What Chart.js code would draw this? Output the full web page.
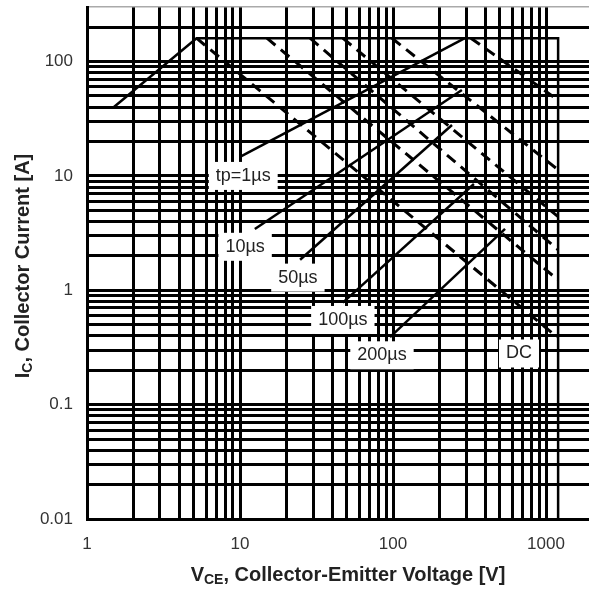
<!DOCTYPE html>
<html>
<head>
<meta charset="utf-8">
<title>SOA</title>
<script src="https://cdn.jsdelivr.net/npm/chart.js@4.4.1/dist/chart.umd.min.js"></script>
<style>
    html, body { margin: 0; padding: 0; background: #fff; }
    #soaChart { display: block; background: #fff; }
</style>
</head>
<body>
<canvas id="soaChart" width="589" height="591"></canvas>
<script>
// Grid / tick values (log decades)
const vceGrid = [1, 2, 3, 4, 5, 6, 7, 8, 9, 10, 20, 30, 40, 50, 60, 70, 80, 90,
                 100, 200, 300, 400, 500, 600, 700, 800, 900, 1000];
const icGrid = [0.01, 0.02, 0.03, 0.04, 0.05, 0.06, 0.07, 0.08, 0.09,
                0.1, 0.2, 0.3, 0.4, 0.5, 0.6, 0.7, 0.8, 0.9,
                1, 2, 3, 4, 5, 6, 7, 8, 9,
                10, 20, 30, 40, 50, 60, 70, 80, 90,
                100, 200, 300];
const vceLabels = [1, 10, 100, 1000];
const icLabels = [0.01, 0.1, 1, 10, 100];

// SOA envelope (solid)
const envV = [1.5, 5.2, 1200, 1200];
const envI = [40, 160, 160, 0.01];

// Power limit lines (dashed), start on Icm line, end on 1200 V
const dcV = [5.2, 1180];
const dcI = [160, 0.39];
const p200V = [15, 1200];
const p200I = [160, 1.23];
const p100V = [28.7, 1200];
const p100I = [160, 2.26];
const p50V = [47, 1200];
const p50I = [160, 4.4];
const p10V = [98.5, 1200];
const p10I = [160, 11.3];
const p1V = [323, 1200];
const p1I = [160, 46];

// Solid leader lines from labels
const l1V = [10, 295];
const l1I = [14.7, 160];
const l10V = [12.5, 282];
const l10I = [3.44, 56.4];
const l50V = [24.7, 243];
const l50I = [1.85, 27.9];
const l100V = [47, 338];
const l100I = [0.78, 8.5];
const l200V = [95.6, 540];
const l200I = [0.39, 3.44];

// Label texts and their anchor (V, A)
const calloutText = ['tp=1\u00b5s', '10\u00b5s', '50\u00b5s', '100\u00b5s', '200\u00b5s', 'DC'];
const calloutV = [10.5, 10.8, 23.9, 47, 84.7, 666];
const calloutI = [10, 2.4, 1.29, 0.55, 0.27, 0.28];

function pts(vs, is) {
    return vs.map((v, i) => ({ x: v, y: is[i] }));
}

function solid(vs, is) {
    return { data: pts(vs, is), borderColor: '#000', borderWidth: 2.5, pointRadius: 0, tension: 0, fill: false };
}

function dashed(vs, is) {
    return { data: pts(vs, is), borderColor: '#000', borderWidth: 3, borderDash: [11, 7], pointRadius: 0, tension: 0, fill: false };
}

// White boxed labels
const calloutPlugin = {
    id: 'callouts',
    afterDatasetsDraw(chart) {
        const c = chart.ctx;
        const xs = chart.scales.x, ys = chart.scales.y;
        c.save();
        c.font = '18px "Liberation Sans", Arial, sans-serif';
        c.textAlign = 'center';
        c.textBaseline = 'middle';
        calloutText.forEach((t, i) => {
            const px = xs.getPixelForValue(calloutV[i]);
            const py = ys.getPixelForValue(calloutI[i]);
            const w = c.measureText(t).width + 14;
            const h = 28;
            c.fillStyle = '#fff';
            c.fillRect(px - w / 2, py - h / 2, w, h);
            c.fillStyle = '#222';
            c.fillText(t, px, py);
        });
        c.restore();
    }
};

// Axis titles with subscripts
function drawSubTitle(c, main, sub, rest, size) {
    const big = 'bold ' + size + 'px "Liberation Sans", Arial, sans-serif';
    const small = 'bold ' + Math.round(size * 0.68) + 'px "Liberation Sans", Arial, sans-serif';
    c.font = big;
    const w1 = c.measureText(main).width;
    const w3 = c.measureText(rest).width;
    c.font = small;
    const w2 = c.measureText(sub).width;
    let x = -(w1 + w2 + w3) / 2;
    c.textAlign = 'left';
    c.textBaseline = 'middle';
    c.font = big;
    c.fillText(main, x, 0);
    x += w1;
    c.font = small;
    c.fillText(sub, x, size * 0.28);
    x += w2;
    c.font = big;
    c.fillText(rest, x, 0);
}

const titlePlugin = {
    id: 'axisTitles',
    afterDraw(chart) {
        const c = chart.ctx;
        c.save();
        c.fillStyle = '#222';
        c.translate(348, 575);
        drawSubTitle(c, 'V', 'CE', ', Collector-Emitter Voltage [V]', 20);
        c.restore();
        c.save();
        c.fillStyle = '#222';
        c.translate(23, 266);
        c.rotate(-Math.PI / 2);
        drawSubTitle(c, 'I', 'C', ', Collector Current [A]', 20);
        c.restore();
    }
};

document.addEventListener('DOMContentLoaded', function() {
    const canvas = document.getElementById('soaChart');
    const ctx = canvas.getContext('2d');
    const tickFont = { family: '"Liberation Sans", Arial, sans-serif', size: 17 };

    new Chart(ctx, {
        type: 'line',
        data: {
            datasets: [
                solid(envV, envI),
                dashed(dcV, dcI),
                dashed(p200V, p200I),
                dashed(p100V, p100I),
                dashed(p50V, p50I),
                dashed(p10V, p10I),
                dashed(p1V, p1I),
                solid(l1V, l1I),
                solid(l10V, l10I),
                solid(l50V, l50I),
                solid(l100V, l100I),
                solid(l200V, l200I)
            ]
        },
        options: {
            responsive: false,
            animation: false,
            layout: { padding: { top: 7, right: 0, bottom: 0, left: 0 } },
            plugins: {
                legend: { display: false },
                tooltip: { enabled: false }
            },
            scales: {
                x: {
                    type: 'logarithmic',
                    min: 1,
                    max: 1910,
                    afterBuildTicks: function(scale) {
                        scale.ticks = vceGrid.map(v => ({ value: v }));
                    },
                    afterFit: function(scale) {
                        scale.height = 72;
                        scale.paddingLeft = 0;
                        scale.paddingRight = 0;
                    },
                    grid: { color: '#000', lineWidth: 3, drawTicks: false },
                    border: { display: true, color: '#000', width: 3 },
                    ticks: {
                        autoSkip: false,
                        maxRotation: 0,
                        padding: 15,
                        color: '#333',
                        font: tickFont,
                        callback: function(value) {
                            return vceLabels.includes(value) ? String(value) : '';
                        }
                    }
                },
                y: {
                    type: 'logarithmic',
                    min: 0.01,
                    max: 300,
                    afterBuildTicks: function(scale) {
                        scale.ticks = icGrid.map(v => ({ value: v }));
                    },
                    afterFit: function(scale) {
                        scale.width = 87;
                        scale.paddingTop = 0;
                        scale.paddingBottom = 0;
                    },
                    grid: {
                        drawTicks: false,
                        color: c => c.tick && c.tick.value === 300 ? '#aaa' : '#000',
                        lineWidth: c => c.tick && c.tick.value === 300 ? 1.5 : 3
                    },
                    border: { display: true, color: '#000', width: 3 },
                    ticks: {
                        autoSkip: false,
                        padding: 14,
                        color: '#333',
                        font: tickFont,
                        callback: function(value) {
                            return icLabels.includes(value) ? String(value) : '';
                        }
                    }
                }
            }
        },
        plugins: [calloutPlugin, titlePlugin]
    });
});
</script>
</body>
</html>
